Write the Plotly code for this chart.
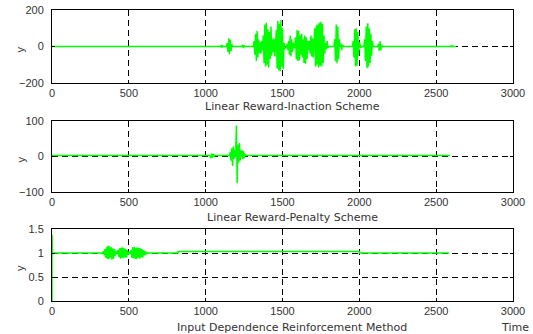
import plotly.graph_objects as go

W, H = 533, 334
STEP = 5  # sample spacing of the time axis

# ---------------- data: Linear Reward-Inaction Scheme ----------------
rri_end = 2630
rri_level_t = [0]
rri_level_v = [0.0]
rri_seg_starts = [1100, 1140, 1240, 1315, 1530, 1840, 1880, 1960, 2035, 2125, 2600]
rri_seg_1100 = [5, -6, 4]
rri_seg_1140 = [18, -30, 45, -42, 38, -25, 12]
rri_seg_1240 = [10, -8, 6]
rri_seg_1315 = [30, -45, 70, -80, 85, -60, 40, -35, 25, -40, 30, -20, 60, -90, 120, -110, 130,
                -100, 95, -115, 80, -70, 110, -50, 40, -30, 45, -55, 35, 90, -120, 140, -130, 125,
                -135, 145, -110, 100, -125, 20, -15]
rri_seg_1530 = [15, -20, 30, -45, 60, -55, 40, -30, 20, -10, 5, 50, -70, 90, -80, 85, -75, 60, -45,
                70, -60, 40, -90, 60, -95, 50, -70, 30, -20, 30, -40, 60, -55, 45, -60, 40, 100,
                -110, 115, -100, 120, -115, 130, -105, 135, -110, 125, -90, 60, -40, 20, -15, 30, -10]
rri_seg_1840 = [40, -80, 120, -92, 110, -70, 40]
rri_seg_1880 = [15, -20, 10]
rri_seg_1960 = [30, -60, 95, -110, 100, -105, 80, -50, 25, 10, -8]
rri_seg_2035 = [40, -80, 110, -119, 128, -110, 100, -90, 70, -50, 30]
rri_seg_2125 = [15, -25, 28, -20, 10]
rri_seg_2600 = [8]
rri_segs = [rri_seg_1100, rri_seg_1140, rri_seg_1240, rri_seg_1315, rri_seg_1530, rri_seg_1840,
            rri_seg_1880, rri_seg_1960, rri_seg_2035, rri_seg_2125, rri_seg_2600]

# ---------------- data: Linear Reward-Penalty Scheme ----------------
rrp_end = 2590
rrp_level_t = [0]
rrp_level_v = [3.0]
rrp_seg_starts = [1030, 1160]
rrp_seg_1030 = [-3, -8, 5, -6, 4, -3]
rrp_seg_1160 = [10, -15, 20, -30, 25, -10, 15, -5, 84, -78, 30, -20, 35, -15, 10, 15, -10, 12, -8, 5]
rrp_segs = [rrp_seg_1030, rrp_seg_1160]

# ---------------- data: Input Dependence Reinforcement Method ----------------
idr_end = 2585
idr_start_t = [0, 0, 3]
idr_start_v = [0.0, 1.38, 1.0]
idr_level_t = [0, 820, 2000]
idr_level_v = [1.0, 1.03, 1.0]
idr_seg_starts = [335, 425, 500, 515]
idr_seg_335 = [0.04, -0.05, 0.08, -0.10, 0.12, -0.12, 0.15, -0.13, 0.14, -0.10, 0.12, -0.14, 0.10,
               -0.12, 0.08, -0.06, 0.04, -0.03]
idr_seg_425 = [0.02, 0.06, -0.08, 0.10, -0.12, 0.11, -0.10, 0.12, -0.11, 0.10, -0.09, 0.08, -0.10,
               0.06, -0.04]
idr_seg_500 = [0.03, -0.02]
idr_seg_515 = [0.06, -0.10, 0.12, -0.11, 0.13, -0.12, 0.10, -0.13, 0.12, -0.10, 0.11, -0.12, 0.10,
               -0.09, 0.08, -0.10, 0.06, -0.05, 0.04, -0.03, 0.02, -0.01]
idr_segs = [idr_seg_335, idr_seg_425, idr_seg_500, idr_seg_515]

x_ticks = [0, 500, 1000, 1500, 2000, 2500, 3000]
y_ticks = [[-200, 0, 200], [-100, 0, 100], [0, 0.5, 1, 1.5]]
y_ranges = [[-200, 200], [-100, 100], [0, 1.5]]
titles = ["Linear Reward-Inaction Scheme", "Linear Reward-Penalty Scheme",
          "Input Dependence Reinforcement Method"]


def level_at(t, lt, lv):
    v = lv[0]
    for a, b in zip(lt, lv):
        if t >= a:
            v = b
    return v


def build(end, lt, lv, starts, segs, head_t=None, head_v=None):
    pts = []  # (t, order, y)
    k = 0
    if head_t:
        for t, v in zip(head_t, head_v):
            pts.append((t, k, v)); k += 1
    else:
        pts.append((0, k, level_at(0, lt, lv))); k += 1
    for s, vals in zip(starts, segs):
        pts.append((s - STEP, k, level_at(s - STEP, lt, lv))); k += 1
        for i, v in enumerate(vals):
            t = s + i * STEP
            pts.append((t, k, level_at(t, lt, lv) + v)); k += 1
        te = s + len(vals) * STEP
        pts.append((te, k, level_at(te, lt, lv))); k += 1
    for i in range(1, len(lt)):
        pts.append((lt[i], k, lv[i - 1])); k += 1
        pts.append((lt[i], k, lv[i])); k += 1
    pts.append((end, k, level_at(end, lt, lv)))
    pts.sort(key=lambda p: (p[0], p[1]))
    return [p[0] for p in pts], [p[2] for p in pts]


series = [
    build(rri_end, rri_level_t, rri_level_v, rri_seg_starts, rri_segs),
    build(rrp_end, rrp_level_t, rrp_level_v, rrp_seg_starts, rrp_segs),
    build(idr_end, idr_level_t, idr_level_v, idr_seg_starts, idr_segs, idr_start_t, idr_start_v),
]

# pixel geometry of the three axes boxes (top, bottom) and title centres
boxes = [(10, 83), (121, 192), (229, 301)]
title_y = [106.5, 217.5, 327.5]
x_left, x_right = 52, 513

fig = go.Figure()
font = dict(family="Liberation Sans, Arial, sans-serif", size=11, color="#333333")
tfont = dict(family="DejaVu Sans, sans-serif", size=11, color="#333333")
layout = dict(template="none", width=W, height=H, margin=dict(l=0, r=0, t=0, b=0),
              showlegend=False, paper_bgcolor="white", plot_bgcolor="white", font=font,
              annotations=[])

for i, (xs, ys) in enumerate(series):
    n = "" if i == 0 else str(i + 1)
    fig.add_trace(go.Scatter(x=xs, y=ys, mode="lines", line=dict(color="#00ff00", width=1.5),
                             xaxis="x" + n, yaxis="y" + n, hoverinfo="skip"))
    top, bot = boxes[i]
    common = dict(showline=True, linecolor="black", linewidth=1, mirror="ticks",
                  ticks="inside", ticklen=3, tickcolor="black", showgrid=True,
                  gridcolor="black", gridwidth=1, griddash="6px,4px", zeroline=False,
                  tickfont=font, automargin=False)
    layout["xaxis" + n] = dict(common, domain=[x_left / W, x_right / W], range=[0, 3000],
                               tickvals=x_ticks, anchor="y" + n, ticklabelstandoff=0)
    layout["yaxis" + n] = dict(common, domain=[1 - bot / H, 1 - top / H], range=y_ranges[i],
                               tickvals=y_ticks[i], anchor="x" + n, ticklabelstandoff=5)
    layout["annotations"].append(dict(text=titles[i], x=292 / W, y=1 - title_y[i] / H,
                                      xref="paper", yref="paper", showarrow=False, font=tfont,
                                      xanchor="center", yanchor="middle"))
    layout["annotations"].append(dict(text="y", x=20 / W, y=1 - ((top + bot) / 2 + 3) / H,
                                      xref="paper", yref="paper", showarrow=False, font=font,
                                      textangle=-90, xanchor="center", yanchor="middle"))

layout["annotations"].append(dict(text="Time", x=515 / W, y=1 - 327.5 / H, xref="paper",
                                  yref="paper", showarrow=False, font=tfont,
                                  xanchor="center", yanchor="middle"))
fig.update_layout(**layout)
fig.write_html("out.html", config={"displayModeBar": False},
               post_script="document.body.style.margin='0px';")
